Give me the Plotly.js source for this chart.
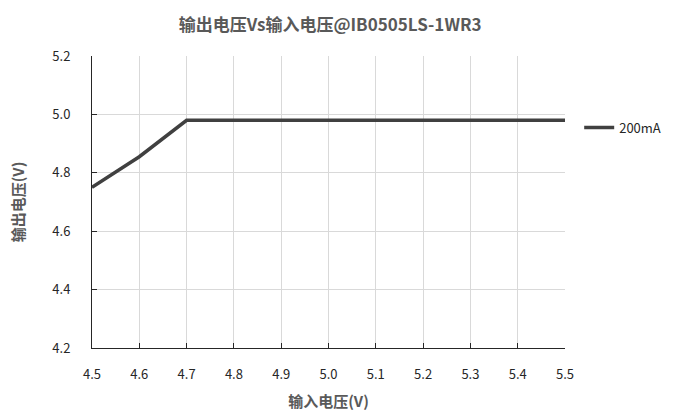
<!DOCTYPE html>
<html><head><meta charset="utf-8">
<script src="https://cdn.plot.ly/plotly-3.0.1.min.js"></script>
<style>html,body{margin:0;padding:0;background:#fff}#c{width:678px;height:414px}</style>
</head><body><div id="c"></div>
<script>
const inputVoltage = [4.5, 4.6, 4.7, 4.8, 4.9, 5.0, 5.1, 5.2, 5.3, 5.4, 5.5];
const output200mA = [4.75, 4.855, 4.98, 4.98, 4.98, 4.98, 4.98, 4.98, 4.98, 4.98, 4.98];
const xTicks = [4.5, 4.6, 4.7, 4.8, 4.9, 5.0, 5.1, 5.2, 5.3, 5.4, 5.5];
const yTicks = [4.2, 4.4, 4.6, 4.8, 5.0, 5.2];
const font = '"Noto Sans CJK SC", "Noto Sans", sans-serif';
Plotly.newPlot('c', [{
  x: inputVoltage, y: output200mA, name: '200mA', mode: 'lines', type: 'scatter',
  line: {color: '#404040', width: 3.5}
}], {
  width: 678, height: 414,
  margin: {l: 92, r: 113, t: 56, b: 66},
  paper_bgcolor: '#fff', plot_bgcolor: '#fff',
  font: {family: font, color: '#333', size: 12},
  title: {text: '<b>输出电压Vs输入电压@IB0505LS-1WR3</b>', x: 0.487, xanchor: 'center', y: 0.94, yanchor: 'middle',
    font: {family: font, size: 17, color: '#595959'}},
  xaxis: {range: [4.5, 5.5], tickvals: xTicks, ticktext: xTicks.map(v => v.toFixed(1)),
    showgrid: true, gridcolor: '#d9d9d9', gridwidth: 1, zeroline: false,
    showline: true, linecolor: '#262626', linewidth: 1,
    ticks: 'inside', ticklen: 5, tickcolor: '#262626', ticklabelstandoff: 14,
    tickfont: {size: 13, color: '#262626'},
    title: {text: '<b>输入电压(V)</b>', standoff: 14, font: {size: 15, color: '#595959'}}},
  yaxis: {range: [4.2, 5.2], tickvals: yTicks, ticktext: yTicks.map(v => v.toFixed(1)),
    showgrid: true, gridcolor: '#d9d9d9', gridwidth: 1, zeroline: false,
    showline: true, linecolor: '#262626', linewidth: 1,
    ticks: 'inside', ticklen: 5, tickcolor: '#262626', ticklabelstandoff: 18,
    tickfont: {size: 13, color: '#262626'},
    title: {text: '<b>输出电压(V)</b>', standoff: 24, font: {size: 15, color: '#595959'}}},
  showlegend: true,
  legend: {x: 1.03, xanchor: 'left', y: 0.755, yanchor: 'middle', font: {size: 13, color: '#262626'},
    bgcolor: 'rgba(0,0,0,0)', itemwidth: 30, tracegroupgap: 0}
}, {displayModeBar: false, staticPlot: true});
</script></body></html>
